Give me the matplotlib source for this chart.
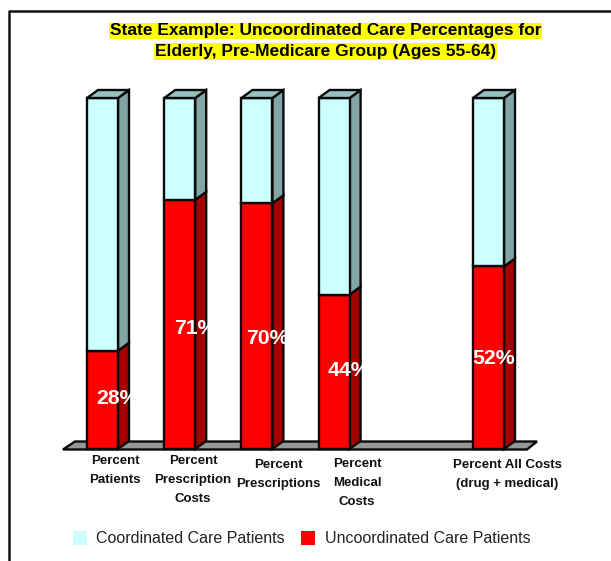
import matplotlib
matplotlib.use("Agg")
import matplotlib.pyplot as plt
from matplotlib.patches import Polygon, Rectangle

categories = ["Percent\nPatients", "Percent\nPrescription\nCosts", "Percent\nPrescriptions",
              "Percent\nMedical\nCosts", "", "Percent All Costs\n(drug + medical)"]
uncoordinated = [28, 71, 70, 44, None, 52]
total = [100, 100, 100, 100, None, 100]
labels = ["28%", "71%", "70%", "44%", None, "52%"]
series_names = ["Coordinated Care Patients", "Uncoordinated Care Patients"]
title = "State Example: Uncoordinated Care Percentages for\nElderly, Pre-Medicare Group (Ages 55-64)"

W, H = 611, 561
plt.rcParams["font.family"] = ["Liberation Sans", "DejaVu Sans"]
fig = plt.figure(figsize=(W / 100, H / 100), dpi=100)
ax = fig.add_axes([0, 0, 1, 1])
PX_X, PX_Y, X0, Y0 = 77.2, 3.51, 102.5, 449
ax.set_xlim(-X0 / PX_X, (W - X0) / PX_X)
ax.set_ylim(-(H - Y0) / PX_Y, Y0 / PX_Y)
ax.axis("off")

dx, dy = 11 / PX_X, 8 / PX_Y
bw = 31 / PX_X
lw = 1.7
edge = "#0a0a0a"


def px(x, y):
    return (x - X0) / PX_X, (Y0 - y) / PX_Y


# outer frame: left and top only, running off the right edge
ax.plot(*zip(px(9, 561), px(9, 10.5), px(611, 10.5)), color="#111111", lw=1.8, zorder=1)

# floor
ax.add_patch(Polygon([px(63, 449.5), px(527, 449.5), px(537, 441.5), px(75, 441.5)],
                     closed=True, fc="#969696", ec=edge, lw=lw, zorder=2))


def box(x, y0, y1, front, side, top=None):
    l, r = x - bw / 2, x + bw / 2
    ax.add_patch(Polygon([(r, y0), (r + dx, y0 + dy), (r + dx, y1 + dy), (r, y1)],
                         closed=True, fc=side, ec=edge, lw=lw, zorder=3))
    ax.add_patch(Rectangle((l, y0), bw, y1 - y0, fc=front, ec=edge, lw=lw, zorder=3))
    if top:
        ax.add_patch(Polygon([(l, y1), (r, y1), (r + dx, y1 + dy), (l + dx, y1 + dy)],
                             closed=True, fc=top, ec=edge, lw=lw, zorder=3))


label_left = [96.5, 174, 246, 328, None, 472.5]
label_mid = [398.5, 328, 339, 370, None, 359]
for i, (u, t, lab) in enumerate(zip(uncoordinated, total, labels)):
    if u is None:
        continue
    box(i, 0, u, "#ff0000", "#a50000")
    box(i, u, t, "#ccffff", "#82a5a5", "#99c0c0")
    x, y = px(label_left[i], label_mid[i])
    ax.text(x, y, lab, color="white", fontsize=15.3, fontweight="bold",
            ha="left", va="center", zorder=5)

label_tops = [455, 455, 459, 458, None, 459]
label_x = [115, 193, 278, 357, None, 507.5]
for cat, ty, tx in zip(categories, label_tops, label_x):
    if ty is None:
        continue
    x, y = px(tx, ty)
    ax.text(x, y, cat, fontsize=9.5, fontweight="bold", ha="center", va="top",
            linespacing=1.76, color="#111111", zorder=5)

for line, ly in zip(title.split("\n"), [31, 51.5]):
    x, y = px(325.5, ly)
    ax.text(x, y, line, fontsize=12.5, fontweight="bold", ha="center", va="center", zorder=5,
            bbox=dict(fc="#ffff00", ec="none", pad=0.6))

# legend
for name, color, bx, tx in zip(series_names, ["#ccffff", "#ff0000"], [73, 301], [96, 325]):
    x, y = px(bx, 545)
    ax.add_patch(Rectangle((x, y), 14 / PX_X, 14 / PX_Y, fc=color, ec="none", zorder=4))
    x, y = px(tx, 538.5)
    ax.text(x, y, name, fontsize=11.5, ha="left", va="center", color="#222222", zorder=5)

fig.savefig("out.png", dpi=100)
